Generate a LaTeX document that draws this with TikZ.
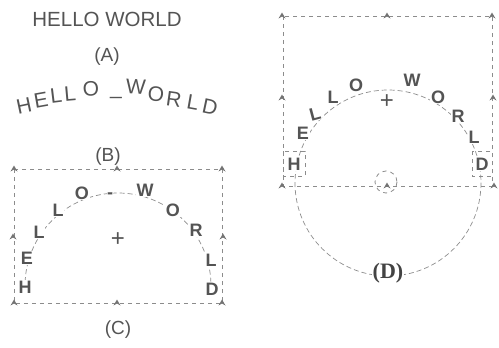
\documentclass[tikz,border=0pt]{standalone}
\usepackage{fontspec}
\setmainfont{Liberation Sans}
\newfontfamily\serifbold{Liberation Serif}
\usetikzlibrary{calc}
\definecolor{ink}{gray}{0.33}
\definecolor{dashcol}{gray}{0.55}
\definecolor{handlecol}{gray}{0.45}
\begin{document}
\begin{tikzpicture}[x=1pt,y=-1pt,
  arcletter/.style={inner sep=0pt, text=ink, font=\fontsize{21}{21}\selectfont},
  letter/.style={inner sep=0.6pt, fill=white, text=ink, font=\bfseries\fontsize{18}{18}\selectfont},
  caption/.style={inner sep=1pt, text=ink, font=\fontsize{19}{19}\selectfont},
  frame/.style={draw=dashcol, line width=0.8pt, dash pattern=on 4pt off 4pt},
  guide/.style={draw=dashcol, line width=0.7pt, dash pattern=on 5pt off 3pt},
  pics/handle/.style={code={\fill[handlecol] (-3.5,2.5) -- (0,-3.5) -- (3.5,2.5) -- (0,0.5) -- cycle;}}]
\useasboundingbox (0,0) rectangle (499,348);

% ---------- (A) ----------
\node[caption, font=\fontsize{20.5}{20.5}\selectfont] (title) at (107,19) {HELLO WORLD};
\node[caption] (capA) at (107,57) {(A)};
\node[arcletter, rotate=12] (a1) at (24,106) {H};
\node[arcletter, rotate=10] (a2) at (41,100) {E};
\node[arcletter, rotate=7] (a3) at (56,96) {L};
\node[arcletter, rotate=5] (a4) at (70,94) {L};
\node[arcletter, rotate=3] (a5) at (91,89) {O};
\node[arcletter] (a6) at (116,97) {\_};
\node[arcletter, rotate=-3] (a7) at (136,87) {W};
\node[arcletter, rotate=-6] (a8) at (156,94) {O};
\node[arcletter, rotate=-8] (a9) at (174,99) {R};
\node[arcletter, rotate=-10] (a10) at (193,102) {L};
\node[arcletter, rotate=-12] (a11) at (210,107) {D};

% ---------- (B)/(C) ----------
\node[caption] (capB) at (108,157) {(B)};
\coordinate (B1) at (14,169);
\coordinate (B2) at (222,303);
\coordinate (Bc) at (118,286);
\draw[frame] (B1) rectangle (B2);
\begin{scope}
  \clip (0,150) rectangle (250,289);
  \draw[guide] (Bc) circle[radius=93];
\end{scope}
\pic (hb1) at (14,169) {handle};
\pic (hb2) at (117,169) {handle};
\pic (hb3) at (222,169) {handle};
\pic (hb4) at (13,237) {handle};
\pic (hb5) at (223,237) {handle};
\pic (hb6) at (14,303) {handle};
\pic (hb7) at (117,303) {handle};
\pic (hb8) at (222,303) {handle};
\node[text=ink, font=\fontsize{24}{24}\selectfont, inner sep=0pt] (plusB) at (118,240) {+};
\node[letter] (b1) at (25,287) {H};
\node[letter] (b2) at (27,258) {E};
\node[letter] (b3) at (39,232) {L};
\node[letter] (b4) at (58,210) {L};
\node[letter] (b5) at (82,193) {O};
\node[letter, inner sep=0pt] (b6) at (110,196) {-};
\node[letter] (b7) at (145,190) {W};
\node[letter] (b8) at (173,210) {O};
\node[letter] (b9) at (196,230) {R};
\node[letter] (b10) at (211,260) {L};
\node[letter] (b11) at (212,289) {D};
\node[caption] (capC) at (118,330) {(C)};

% ---------- (D) ----------
\coordinate (D1) at (283,16);
\coordinate (D2) at (492,186);
\coordinate (Dc) at (388,183);
\draw[guide] (Dc) circle[radius=93];
\draw[frame] (D1) rectangle (D2);
\draw[frame] (386,182) circle[radius=11];
\draw[frame] (283,151) rectangle (305,176);
\draw[frame] (472,151) rectangle (492,176);
\pic (hd1) at (282,16) {handle};
\pic (hd2) at (387,16) {handle};
\pic (hd3) at (492,16) {handle};
\pic (hd4) at (282,98) {handle};
\pic (hd5) at (493,98) {handle};
\pic (hd6) at (282,186) {handle};
\pic (hd7) at (387,186) {handle};
\pic (hd8) at (494,186) {handle};
\node[text=ink, font=\fontsize{24}{24}\selectfont, inner sep=0pt] (plusD) at (387,102) {+};
\node[letter] (d1) at (294,164) {H};
\node[letter] (d2) at (303,133) {E};
\node[letter, rotate=15] (d3) at (315,114) {L};
\node[letter] (d4) at (333,97) {L};
\node[letter] (d5) at (356,85) {O};
\node[letter] (d6) at (412,80) {W};
\node[letter] (d7) at (438,97) {O};
\node[letter] (d8) at (458,116) {R};
\node[letter] (d9) at (474,137) {L};
\node[letter] (d10) at (482,164) {D};
\node[inner sep=1pt, fill=white, text=ink!80!black, font=\serifbold\bfseries\fontsize{22}{22}\selectfont] (capD) at (388,273) {(D)};
\end{tikzpicture}
\end{document}
